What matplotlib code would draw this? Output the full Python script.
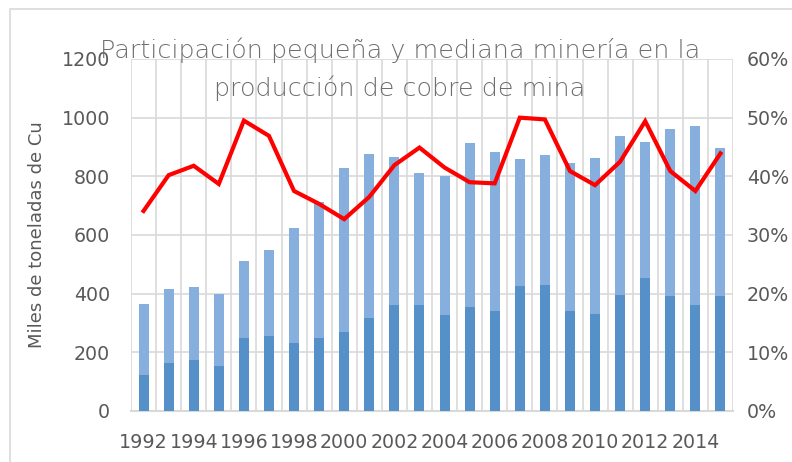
import numpy as np
import matplotlib
matplotlib.use('Agg')
import matplotlib.pyplot as plt
from matplotlib.patches import Rectangle
from matplotlib.ticker import PercentFormatter

years = list(range(1992, 2016))
# total production of small and medium mining (miles de t Cu)
total = [364, 415, 423, 400, 512, 548, 623, 712, 828, 876, 867, 813,
         800, 912, 884, 858, 872, 844, 862, 937, 918, 961, 970, 895]
# dark part of the bars
part = [123, 164, 175, 155, 249, 256, 232, 249, 270, 317, 361, 361,
        328, 353, 341, 426, 431, 341, 331, 395, 453, 392, 361, 392]
# share line (%)
share = [34.1, 40.2, 41.8, 38.7, 49.5, 46.9, 37.5, 35.3, 32.7, 36.5, 41.9, 44.9,
         41.5, 39.0, 38.8, 50.0, 49.7, 40.9, 38.5, 42.5, 49.4, 40.9, 37.5, 43.9]
tick_years = [str(y) for y in years[::2]]

grid_c = '#D9D9D9'
text_c = '#595959'
fs = 13.7

fig = plt.figure(figsize=(7.92, 4.62), dpi=100)
fig.patches.append(Rectangle((10 / 792, -0.1), 1.2, (462 - 9) / 462 + 0.1,
                             transform=fig.transFigure, fill=False,
                             edgecolor=grid_c, linewidth=1.2))

ax = fig.add_axes([131 / 792, 51 / 462, 602 / 792, 352 / 462])
x = np.arange(len(years))
ax.bar(x, total, width=0.4, color='#86AFDD', zorder=2)
ax.bar(x, part, width=0.4, color='#5591C8', zorder=3)

ax.set_xlim(-0.5, len(years) - 0.5)
ax.set_ylim(0, 1200)
ax.set_yticks(range(0, 1201, 200))
ax.set_xticks(x[::2])
ax.set_xticklabels(tick_years)
for b in np.arange(-0.5, len(years), 1.0):
    ax.axvline(b, color=grid_c, linewidth=1.2, zorder=1)
for v in range(200, 1201, 200):
    ax.axhline(v, color=grid_c, linewidth=1.2, zorder=1)
for s in ['top', 'right', 'left']:
    ax.spines[s].set_visible(False)
ax.spines['bottom'].set_color(grid_c)
ax.spines['bottom'].set_linewidth(1.5)
ax.tick_params(axis='y', length=0, pad=15, labelsize=fs, labelcolor=text_c)
ax.tick_params(axis='x', length=0, pad=16, labelsize=fs, labelcolor=text_c)
ax.set_ylabel('Miles de toneladas de Cu', fontsize=13, color=text_c, labelpad=11)

ax2 = ax.twinx()
ax2.plot(x, share, color='#FF0000', linewidth=3, solid_joinstyle='miter', zorder=5)
ax2.set_ylim(0, 60)
ax2.set_yticks(range(0, 61, 10))
ax2.yaxis.set_major_formatter(PercentFormatter(decimals=0))
for s in ['top', 'right', 'left', 'bottom']:
    ax2.spines[s].set_visible(False)
ax2.tick_params(axis='y', length=0, pad=10, labelsize=fs, labelcolor=text_c)

fig.text(400 / 792, 1 - 50 / 462, 'Participación pequeña y mediana minería en la',
         ha='center', va='center', fontsize=18.3, color='#6E6E6E', fontweight='light')
fig.text(400 / 792, 1 - 88 / 462, 'producción de cobre de mina',
         ha='center', va='center', fontsize=18.3, color='#6E6E6E', fontweight='light')

fig.savefig('out.png', dpi=100)
